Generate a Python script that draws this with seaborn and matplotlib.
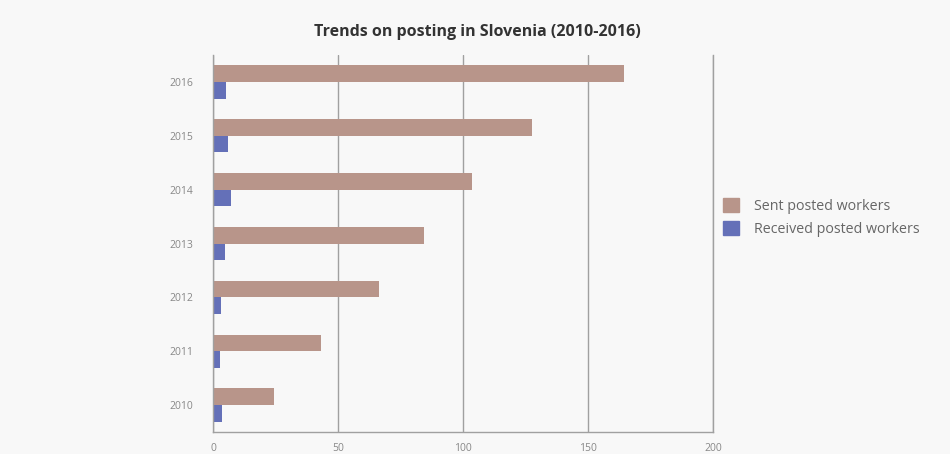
import numpy as np
import pandas as pd
import matplotlib.pyplot as plt
import seaborn as sns

# Data
years = ["2016", "2015", "2014", "2013", "2012", "2011", "2010"]
sent = [164.5, 127.4, 103.5, 84.3, 66.3, 43.0, 24.3]
received = [5.3, 5.8, 7.0, 4.6, 3.3, 2.7, 3.4]
series = ["Sent posted workers", "Received posted workers"]
colors = ["#b8958a", "#6470b8"]

df = pd.DataFrame({
    "year": years * 2,
    "value": sent + received,
    "series": [series[0]] * len(years) + [series[1]] * len(years),
})

sns.set_theme(style="white")
plt.rcParams["font.family"] = ["Open Sans", "DejaVu Sans"]

fig = plt.figure(figsize=(9.5, 4.54), dpi=100, facecolor="#f8f8f8")
ax = fig.add_axes([213 / 950, 1 - 432 / 454, 500 / 950, 377 / 454])
ax.set_facecolor("#f8f8f8")

sns.barplot(
    data=df, x="value", y="year", hue="series",
    order=years, hue_order=series, palette=colors,
    orient="h", width=0.62, saturation=1, linewidth=0,
    ax=ax, legend=False,
)

ax.set_xlim(0, 200)
ax.set_xticks([0, 50, 100, 150, 200])
ax.set_ylim(6.5, -0.5)
ax.grid(axis="x", color="#a0a0a0", lw=1.0)
ax.set_axisbelow(True)
ax.spines["top"].set_visible(False)
for s in ["left", "bottom", "right"]:
    ax.spines[s].set_color("#a0a0a0")
    ax.spines[s].set_linewidth(1.0)
ax.tick_params(axis="both", length=0, labelsize=7.5, colors="#888888")
ax.tick_params(axis="x", pad=8)
ax.tick_params(axis="y", pad=14)
ax.set_xlabel("")
ax.set_ylabel("")

fig.text(0.503, 1 - 32 / 454, "Trends on posting in Slovenia (2010-2016)",
         ha="center", va="center", fontsize=11.5, fontweight="bold", color="#333333")

handles = [plt.Rectangle((0, 0), 1, 1, color=c) for c in colors]
fig.legend(handles, series, loc="upper left", bbox_to_anchor=(710 / 950, 1 - 185 / 454),
           frameon=False, fontsize=10.3, labelcolor="#666666",
           handlelength=1.15, handleheight=1.15, handletextpad=1.0, labelspacing=0.5)

fig.savefig("out.png", dpi=100, facecolor=fig.get_facecolor())
